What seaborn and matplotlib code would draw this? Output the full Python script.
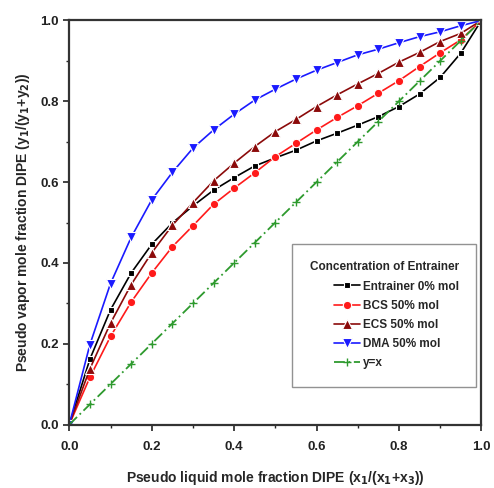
import matplotlib
matplotlib.use("Agg")
import matplotlib.pyplot as plt
import seaborn as sns
import pandas as pd
import numpy as np
from matplotlib.ticker import MultipleLocator

x_vals = [0.0, 0.05, 0.10, 0.15, 0.20, 0.25, 0.30, 0.35, 0.40, 0.45, 0.50,
          0.55, 0.60, 0.65, 0.70, 0.75, 0.80, 0.85, 0.90, 0.95, 1.0]
entrainer0 = [0.0, 0.162, 0.284, 0.375, 0.446, 0.499, 0.541, 0.580, 0.611, 0.640, 0.660,
              0.679, 0.702, 0.721, 0.741, 0.762, 0.787, 0.818, 0.859, 0.919, 1.0]
bcs50 = [0.0, 0.117, 0.218, 0.303, 0.375, 0.440, 0.492, 0.545, 0.585, 0.623, 0.663,
         0.696, 0.729, 0.760, 0.789, 0.820, 0.851, 0.886, 0.920, 0.952, 1.0]
ecs50 = [0.0, 0.138, 0.251, 0.346, 0.425, 0.493, 0.549, 0.603, 0.647, 0.688, 0.725,
         0.755, 0.787, 0.816, 0.843, 0.869, 0.897, 0.921, 0.948, 0.968, 1.0]
dma50 = [0.0, 0.198, 0.349, 0.463, 0.556, 0.624, 0.684, 0.729, 0.768, 0.803, 0.830,
         0.855, 0.877, 0.896, 0.915, 0.929, 0.945, 0.960, 0.972, 0.987, 1.0]
yx = [0.0, 0.05, 0.10, 0.15, 0.20, 0.25, 0.30, 0.35, 0.40, 0.45, 0.50,
      0.55, 0.60, 0.65, 0.70, 0.75, 0.80, 0.85, 0.90, 0.95, 1.0]

labels = ["Entrainer 0% mol", "BCS 50% mol", "ECS 50% mol", "DMA 50% mol", "y=x"]
series = [entrainer0, bcs50, ecs50, dma50, yx]
colors = ["#000000", "#ff1a1a", "#8b0a0a", "#1a1aff", "#2e9a2e"]
markers = ["s", "o", "^", "v", "+"]
msizes = [5, 6, 7, 7.5, 6]

sns.set_theme(style="ticks")
plt.rcParams["font.family"] = ["Liberation Sans", "DejaVu Sans"]
plt.rcParams["font.weight"] = "bold"
plt.rcParams["mathtext.default"] = "bf"

fig = plt.figure(figsize=(4.94, 4.88), dpi=100)
ax = fig.add_axes([0.1403, 0.130, 0.834, 0.828])

for lab, ys, c, m, ms in zip(labels, series, colors, markers, msizes):
    df = pd.DataFrame({"x": x_vals, "y": ys})
    if lab == "y=x":
        sns.lineplot(data=df, x="x", y="y", ax=ax, color=c, marker=m, markersize=ms,
                     markeredgecolor=c, markeredgewidth=1.0, linewidth=1.3,
                     dashes=False, linestyle=(0, (6, 2, 1, 2)), label=lab)
    else:
        sns.lineplot(data=df, x="x", y="y", ax=ax, color=c, marker=m, markersize=ms,
                     markeredgecolor="white", markeredgewidth=0.8, linewidth=1.2,
                     label=lab)

ax.set_xlim(0, 1)
ax.set_ylim(0, 1)
ax.xaxis.set_major_locator(MultipleLocator(0.2))
ax.yaxis.set_major_locator(MultipleLocator(0.2))
ax.xaxis.set_minor_locator(MultipleLocator(0.1))
ax.yaxis.set_minor_locator(MultipleLocator(0.1))
ax.tick_params(which="major", direction="out", length=4, width=1.2, labelsize=9.5,
               colors="#222222", top=False, right=False)
ax.tick_params(axis="x", which="major", pad=8)
ax.tick_params(which="minor", direction="out", length=2.5, width=1.0, top=False, right=False)
for lbl in ax.get_xticklabels() + ax.get_yticklabels():
    lbl.set_fontweight("bold")
for sp in ax.spines.values():
    sp.set_linewidth(1.6)
    sp.set_color("#333333")

ax.set_xlabel(r"Pseudo liquid mole fraction DIPE (x$_1$/(x$_1$+x$_3$))",
              fontsize=10, fontweight="bold", labelpad=11)
ax.set_ylabel(r"Pseudo vapor mole fraction DIPE (y$_1$/(y$_1$+y$_2$))",
              fontsize=10, fontweight="bold", labelpad=6)

leg = ax.legend(loc="upper left", bbox_to_anchor=(0.526, 0.462),
                title="Concentration of Entrainer", fontsize=8.5,
                title_fontproperties={"weight": "bold", "size": 8.5},
                frameon=True, fancybox=False, edgecolor="#777777",
                handlelength=2.2, handletextpad=0.2, labelspacing=0.6,
                borderpad=1.5, alignment="right")
leg.get_frame().set_linewidth(1.0)
for t in leg.get_texts():
    t.set_fontweight("bold")

fig.savefig("out.png", dpi=100)
